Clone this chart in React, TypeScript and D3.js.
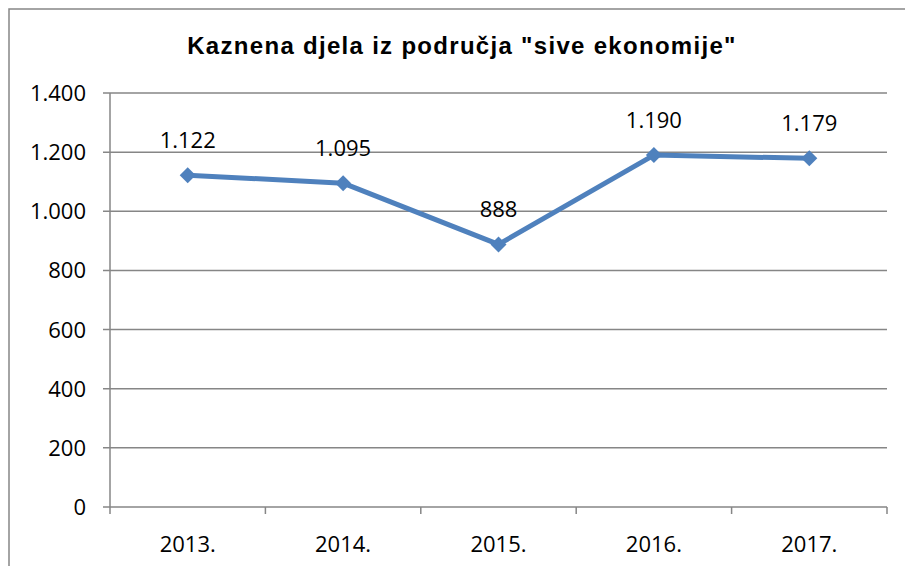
import * as d3 from "d3";

const years = ["2013.", "2014.", "2015.", "2016.", "2017."];
const counts = [1122, 1095, 888, 1190, 1179];
const yTicks = [0, 200, 400, 600, 800, 1000, 1200, 1400];

const fmt = (v: number) => d3.format(",")(v).replace(/,/g, ".");

export default function App() {
  const W = 905;
  const H = 566;
  const left = 110, right = 887, top = 93, bottom = 507;

  const x = d3.scaleBand<string>().domain(years).range([left, right]);
  const y = d3.scaleLinear().domain([0, 1400]).range([bottom, top]);

  const line = d3
    .line<number>()
    .x((_, i) => x(years[i])! + x.bandwidth() / 2)
    .y((d) => y(d));

  const grid = "#868686";
  const blue = "#4F81BD";
  const font = "'Open Sans', sans-serif";

  return (
    <svg width={W} height={H} style={{ position: "absolute", left: 0, top: 0 }}>
      <rect x={0} y={0} width={W} height={H} fill="#fff" />
      <rect x={9} y={9} width={W} height={H} fill="none" stroke={grid} strokeWidth={1.5} />

      <text x={462} y={54} textAnchor="middle" fontFamily="'Liberation Sans', Arial, sans-serif"
        fontWeight="bold" fontSize={24} letterSpacing={1.3}>
        Kaznena djela iz područja "sive ekonomije"
      </text>

      {yTicks.map((t) => (
        <g key={t}>
          <line x1={left - 7} x2={right} y1={y(t)} y2={y(t)} stroke={grid} strokeWidth={1.5} />
          <text x={86} y={y(t) + 8} textAnchor="end" fontFamily={font} fontSize={22} fill="#000">
            {fmt(t)}
          </text>
        </g>
      ))}
      <line x1={left} x2={left} y1={top} y2={bottom} stroke={grid} strokeWidth={1.5} />

      {years.map((yr) => (
        <g key={yr}>
          <line x1={x(yr)!} x2={x(yr)!} y1={bottom} y2={bottom + 7} stroke={grid} strokeWidth={1.5} />
          <text x={x(yr)! + x.bandwidth() / 2} y={552} textAnchor="middle" fontFamily={font} fontSize={22}>
            {yr}
          </text>
        </g>
      ))}
      <line x1={right} x2={right} y1={bottom} y2={bottom + 7} stroke={grid} strokeWidth={1.5} />

      <path d={line(counts)!} fill="none" stroke={blue} strokeWidth={5} strokeLinejoin="round" />
      {counts.map((c, i) => {
        const cx = x(years[i])! + x.bandwidth() / 2;
        const cy = y(c);
        return (
          <g key={i}>
            <path d={`M${cx},${cy - 8}L${cx + 8},${cy}L${cx},${cy + 8}L${cx - 8},${cy}Z`} fill={blue} />
            <text x={cx} y={cy - 27} textAnchor="middle" fontFamily={font} fontSize={22}>
              {fmt(c)}
            </text>
          </g>
        );
      })}
    </svg>
  );
}
